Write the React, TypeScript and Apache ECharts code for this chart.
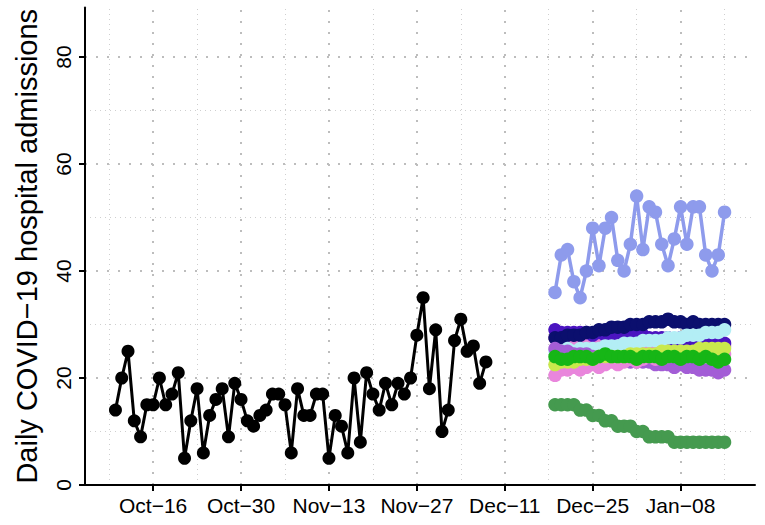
import React, { useEffect, useRef } from "react";
import * as echarts from "echarts";

// Day offsets are counted from Oct 16
const xTickDays = [0, 14, 28, 42, 56, 70, 84];
const xTickLabels = ["Oct−16", "Oct−30", "Nov−13", "Nov−27", "Dec−11", "Dec−25", "Jan−08"];
const xMinorDays = [-7, 7, 21, 35, 49, 63, 77, 91];
const yTicks = [0, 20, 40, 60, 80];
const yMinor = [10, 30, 50, 70];

const observedStartDay = -6;
const observed = [
  14, 20, 25, 12, 9, 15, 15, 20, 15, 17, 21, 5, 12, 18, 6, 13, 16, 18, 9, 19,
  16, 12, 11, 13, 14, 17, 17, 15, 6, 18, 13, 13, 17, 17, 5, 13, 11, 6, 20, 8,
  21, 17, 14, 19, 15, 19, 17, 20, 28, 35, 18, 29, 10, 14, 27, 31, 25, 26, 19, 23,
];

const forecastStartDay = 64;
const fcPinkB = [27.5, 27, 27.5, 27, 27.5, 27, 27, 27, 27, 26.5, 27, 26.5, 27, 26.5, 26.5, 26.5, 26, 26.5, 26, 26, 26, 26, 26, 25.5, 26, 26, 25.5, 26];
const fcPurple = [29, 28.5, 28.5, 28.5, 28.5, 28.5, 28, 28.5, 28, 28, 28.5, 28, 28, 28, 28, 27.5, 27.5, 27.5, 27.5, 27, 27.5, 27, 27, 27, 27, 26.5, 27, 26.5];
const fcNavy = [27.5, 27.5, 28, 28, 28, 28.5, 28.5, 29, 29, 29.5, 29.5, 29.5, 30, 30, 30, 30.5, 30.5, 30.5, 31, 30.5, 30.5, 30, 30.5, 30, 30, 30, 30, 30];
const fcCyan = [25, 25, 25.5, 25, 25.5, 25.5, 25.5, 25.5, 26, 26, 26, 26.5, 26.5, 26.5, 27, 27, 27, 27, 27.5, 27.5, 27.5, 28, 28, 28, 28.5, 28.5, 28.5, 29];
const fcMedPurple = [25.5, 25, 25, 24.5, 24.5, 24.5, 24, 24, 24, 23.5, 23.5, 23.5, 23, 23, 23, 23, 22.5, 22.5, 22.5, 22, 22.5, 22, 22, 21.5, 21.5, 21.5, 21, 21.5];
const fcPinkA = [20.5, 21.5, 21.5, 22, 21.5, 22, 22.5, 22, 22.5, 23, 22.5, 23, 23.5, 23, 23.5, 24, 23.5, 24, 24, 24.5, 24, 24.5, 24.5, 24, 24.5, 24.5, 24, 24.5];
const fcYellowGreen = [22.5, 23, 23, 23, 23.5, 23.5, 23.5, 24, 24, 24, 24, 24, 24.5, 24.5, 24.5, 24.5, 24.5, 25, 25, 25, 25, 25, 25, 25.5, 25.5, 25.5, 25.5, 25.5];
const fcGreen = [24, 23.5, 23.5, 24, 24, 24, 23.5, 24, 24.5, 24, 24, 24, 24, 23.5, 24, 24, 24, 23.5, 24, 24, 23.5, 24, 24, 23.5, 24, 23.5, 23, 23.5];
const fcDarkGreen = [15, 15, 15, 15, 14, 14, 13, 13, 12, 12, 11, 11, 11, 10, 10, 9, 9, 9, 9, 8, 8, 8, 8, 8, 8, 8, 8, 8];
const fcPeriwinkle = [36, 43, 44, 38, 35, 40, 48, 41, 48, 50, 42, 40, 45, 54, 44, 52, 51, 45, 41, 46, 52, 45, 52, 52, 43, 40, 43, 51];

const forecasts = [fcPinkB, fcPurple, fcNavy, fcCyan, fcMedPurple, fcPinkA, fcYellowGreen, fcGreen, fcDarkGreen, fcPeriwinkle];
const forecastColors = ["#E584D9", "#4B14C0", "#0B0F6E", "#B3EEF5", "#A35DD6", "#E986DC", "#C9E94C", "#16B616", "#459A4F", "#8E9BEC"];

const FONT = "'Liberation Sans', Arial, Helvetica, sans-serif";

export default function App() {
  const ref = useRef<HTMLDivElement>(null);
  useEffect(() => {
    document.body.style.margin = "0";
    if (!ref.current) return;
    const chart = echarts.init(ref.current, undefined, { renderer: "svg" });

    const majorStyle = { color: "#bdbdbd", width: 2, type: [2, 9] as any };
    const minorStyle = { color: "#cfcfcf", width: 1, type: [1, 4] as any };

    const gridSeries: any = {
      type: "line",
      data: [],
      z: 0,
      silent: true,
      markLine: {
        z: 0,
        silent: true,
        symbol: ["none", "none"],
        label: { show: false },
        animation: false,
        data: [
          ...xMinorDays.map((d) => ({ xAxis: d, lineStyle: minorStyle })),
          ...yMinor.map((v) => ({ yAxis: v, lineStyle: minorStyle })),
          ...xTickDays.map((d) => ({ xAxis: d, lineStyle: majorStyle })),
          ...yTicks.filter((v) => v > 0).map((v) => ({ yAxis: v, lineStyle: majorStyle })),
        ],
      },
    };

    const observedSeries = {
      type: "line",
      data: observed.map((v, i) => [observedStartDay + i, v]),
      symbol: "circle",
      symbolSize: 13,
      z: 3,
      itemStyle: { color: "#000" },
      lineStyle: { color: "#000", width: 3 },
    };

    const fcSeries = forecasts.map((vals, k) => ({
      type: "line",
      data: vals.map((v, i) => [forecastStartDay + i, v]),
      symbol: "circle",
      symbolSize: 13.5,
      z: 3 + k,
      itemStyle: { color: forecastColors[k] },
      lineStyle: { color: forecastColors[k], width: 3.5 },
    }));

    chart.setOption({
      animation: false,
      backgroundColor: "#fff",
      textStyle: { fontFamily: FONT },
      grid: { left: 85, right: 10, top: 7.5, bottom: 40, containLabel: false },
      xAxis: {
        type: "value",
        min: -10.85,
        max: 95.85,
        axisLine: { show: true, onZero: false, lineStyle: { color: "#000", width: 2 } },
        axisTick: { show: true, customValues: xTickDays, length: 6, lineStyle: { color: "#000", width: 2 } },
        axisLabel: {
          customValues: xTickDays,
          formatter: (v: number) => {
            const idx = xTickDays.indexOf(Math.round(v));
            return idx >= 0 ? xTickLabels[idx] : "";
          },
          color: "#000",
          fontSize: 21,
          fontFamily: FONT,
          margin: 10,
        },
        splitLine: { show: false },
      },
      yAxis: {
        type: "value",
        min: 0,
        max: 89.25,
        name: "Daily COVID−19 hospital admissions",
        nameLocation: "middle",
        nameGap: 44,
        nameTextStyle: { color: "#000", fontSize: 29, fontFamily: FONT },
        axisLine: { show: true, onZero: false, lineStyle: { color: "#000", width: 2 } },
        axisTick: { show: true, customValues: yTicks, length: 6, lineStyle: { color: "#000", width: 2 } },
        axisLabel: {
          customValues: yTicks,
          rotate: 90,
          color: "#000",
          fontSize: 21,
          fontFamily: FONT,
          margin: 11,
        },
        splitLine: { show: false },
      },
      series: [gridSeries, observedSeries, ...fcSeries],
    });
    return () => chart.dispose();
  }, []);
  return <div ref={ref} style={{ width: 765, height: 525 }} />;
}
